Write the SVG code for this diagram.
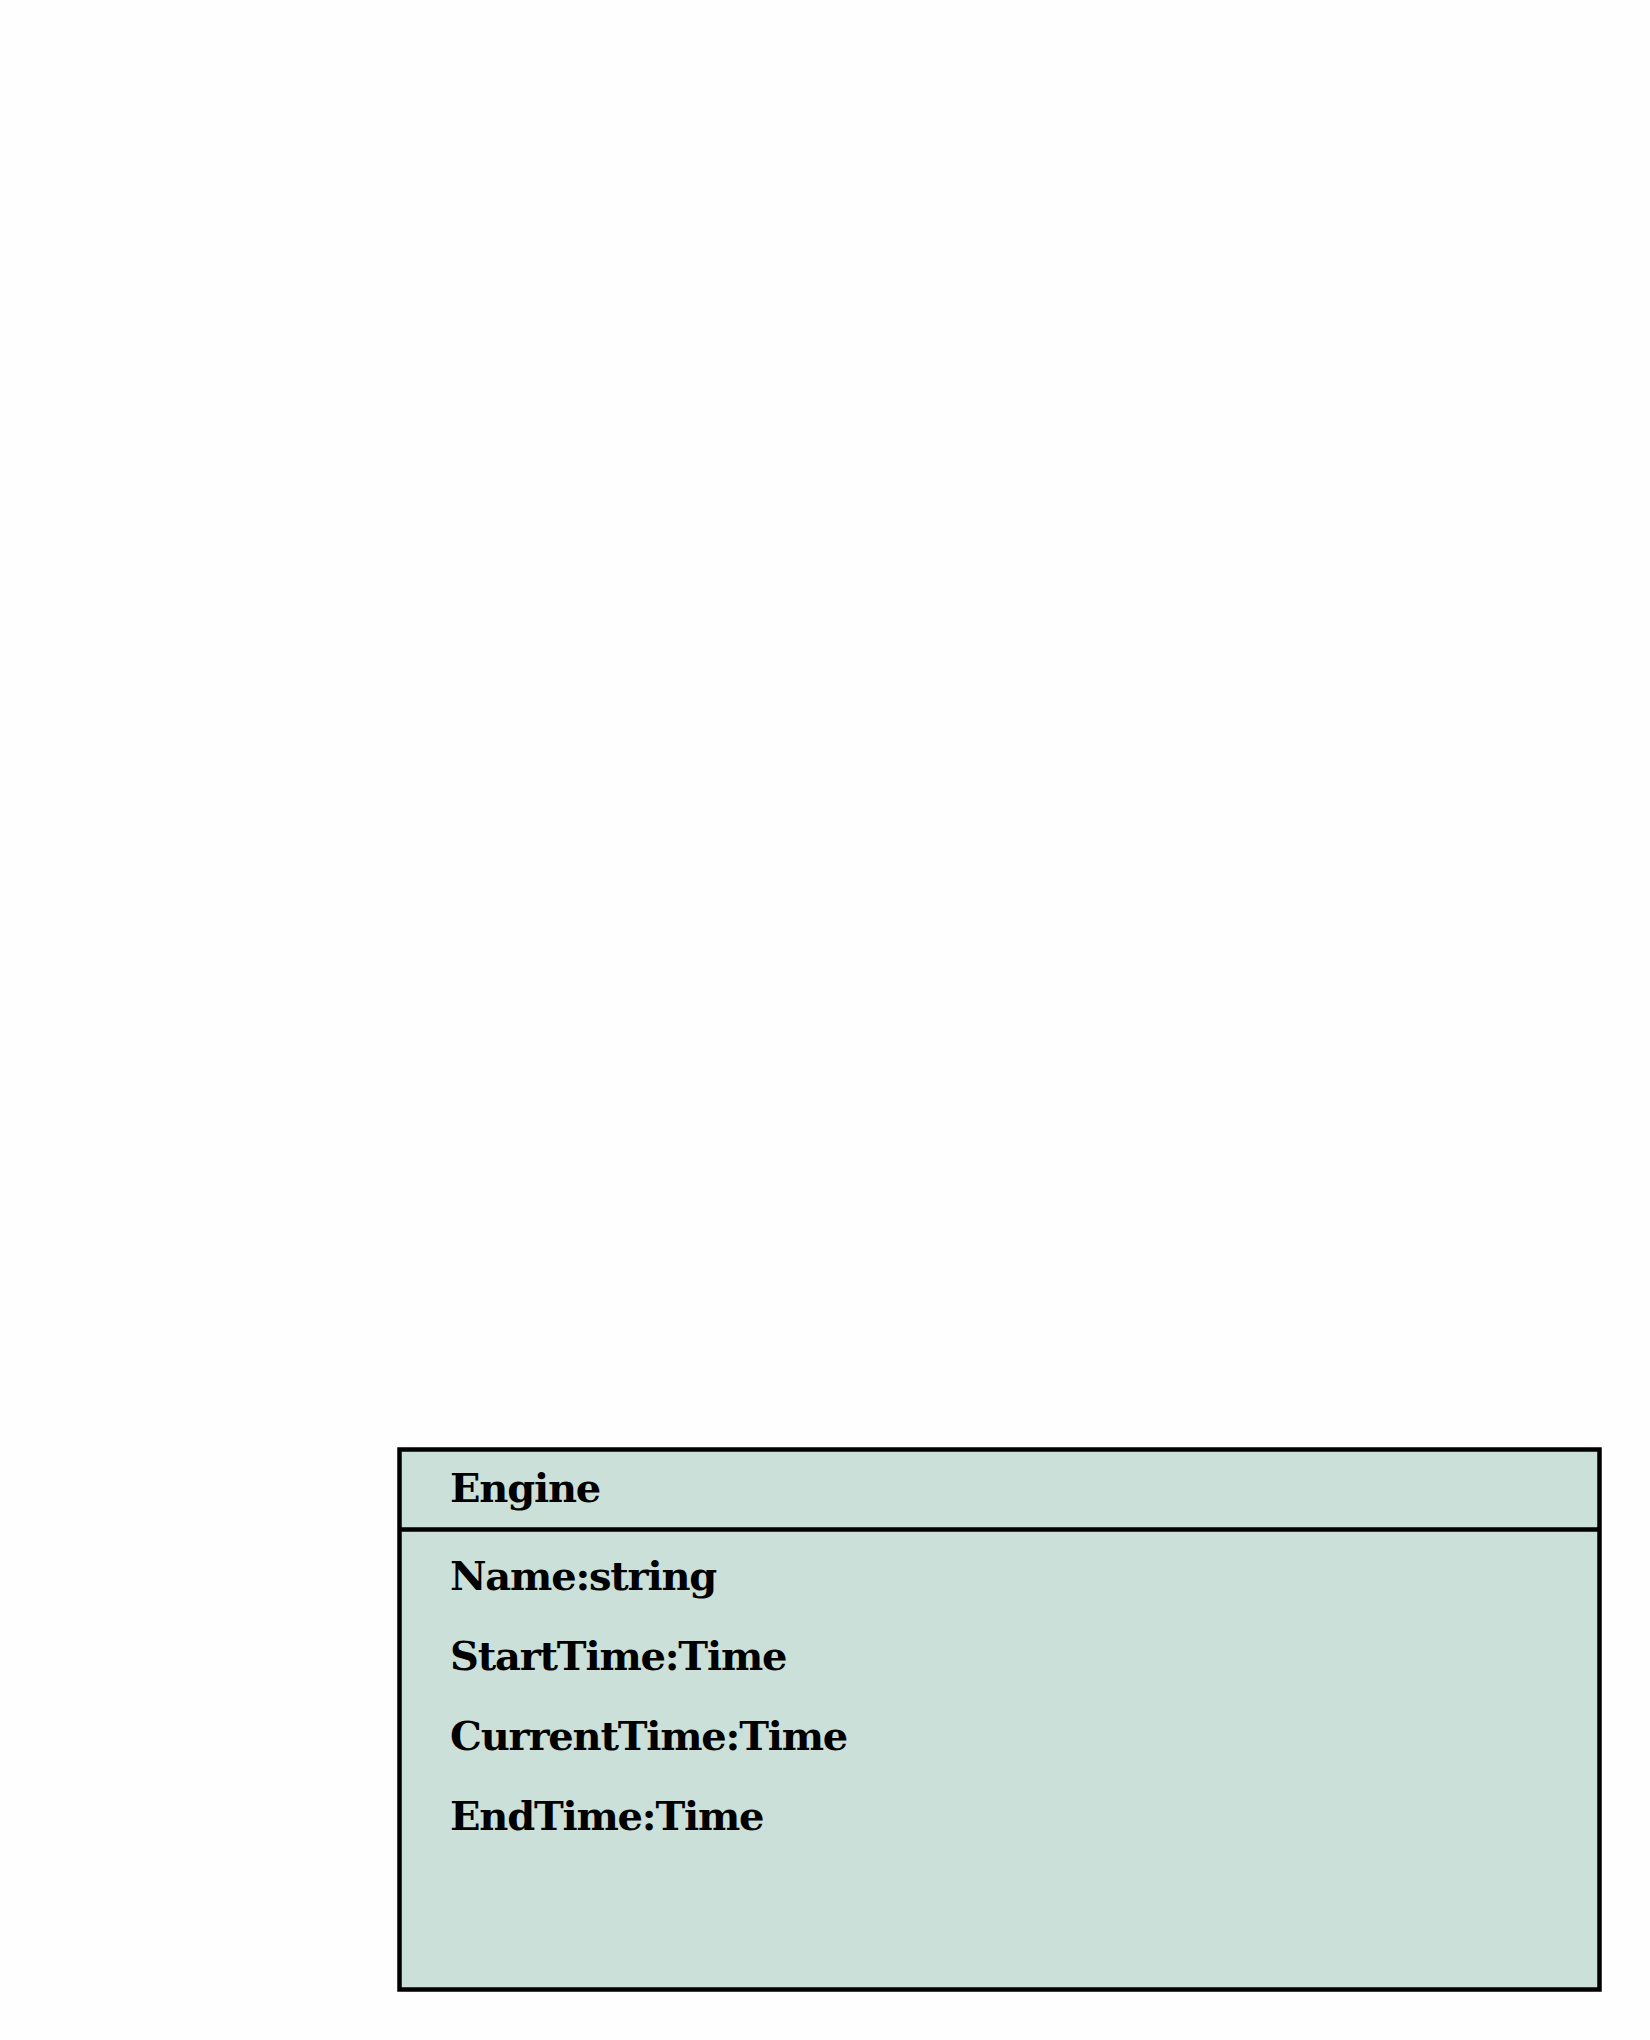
<svg xmlns="http://www.w3.org/2000/svg" width="1650" height="2040" viewBox="0 0 1650 2040">
<style>
.box{fill:#cbe0d9;stroke:#000;stroke-width:4.5}
.div{stroke:#000;stroke-width:4.5}
.t{font-family:"DejaVu Serif",serif;font-weight:bold;font-size:40px;letter-spacing:-1.2px;fill:#000}
</style>
<rect width="1650" height="2040" fill="#fefefe"/>
<g id="connectors"></g>
<g id="engine">
<rect class="box" x="399.5" y="1449.5" width="1200" height="540"/>
<line class="div" x1="399.5" y1="1529.5" x2="1599.5" y2="1529.5"/>
<text class="t" x="450" y="1502">Engine</text>
<text class="t" x="450" y="1590">Name:string</text>
<text class="t" x="450" y="1670">StartTime:Time</text>
<text class="t" x="450" y="1750">CurrentTime:Time</text>
<text class="t" x="450" y="1830">EndTime:Time</text>
</g>
</svg>
